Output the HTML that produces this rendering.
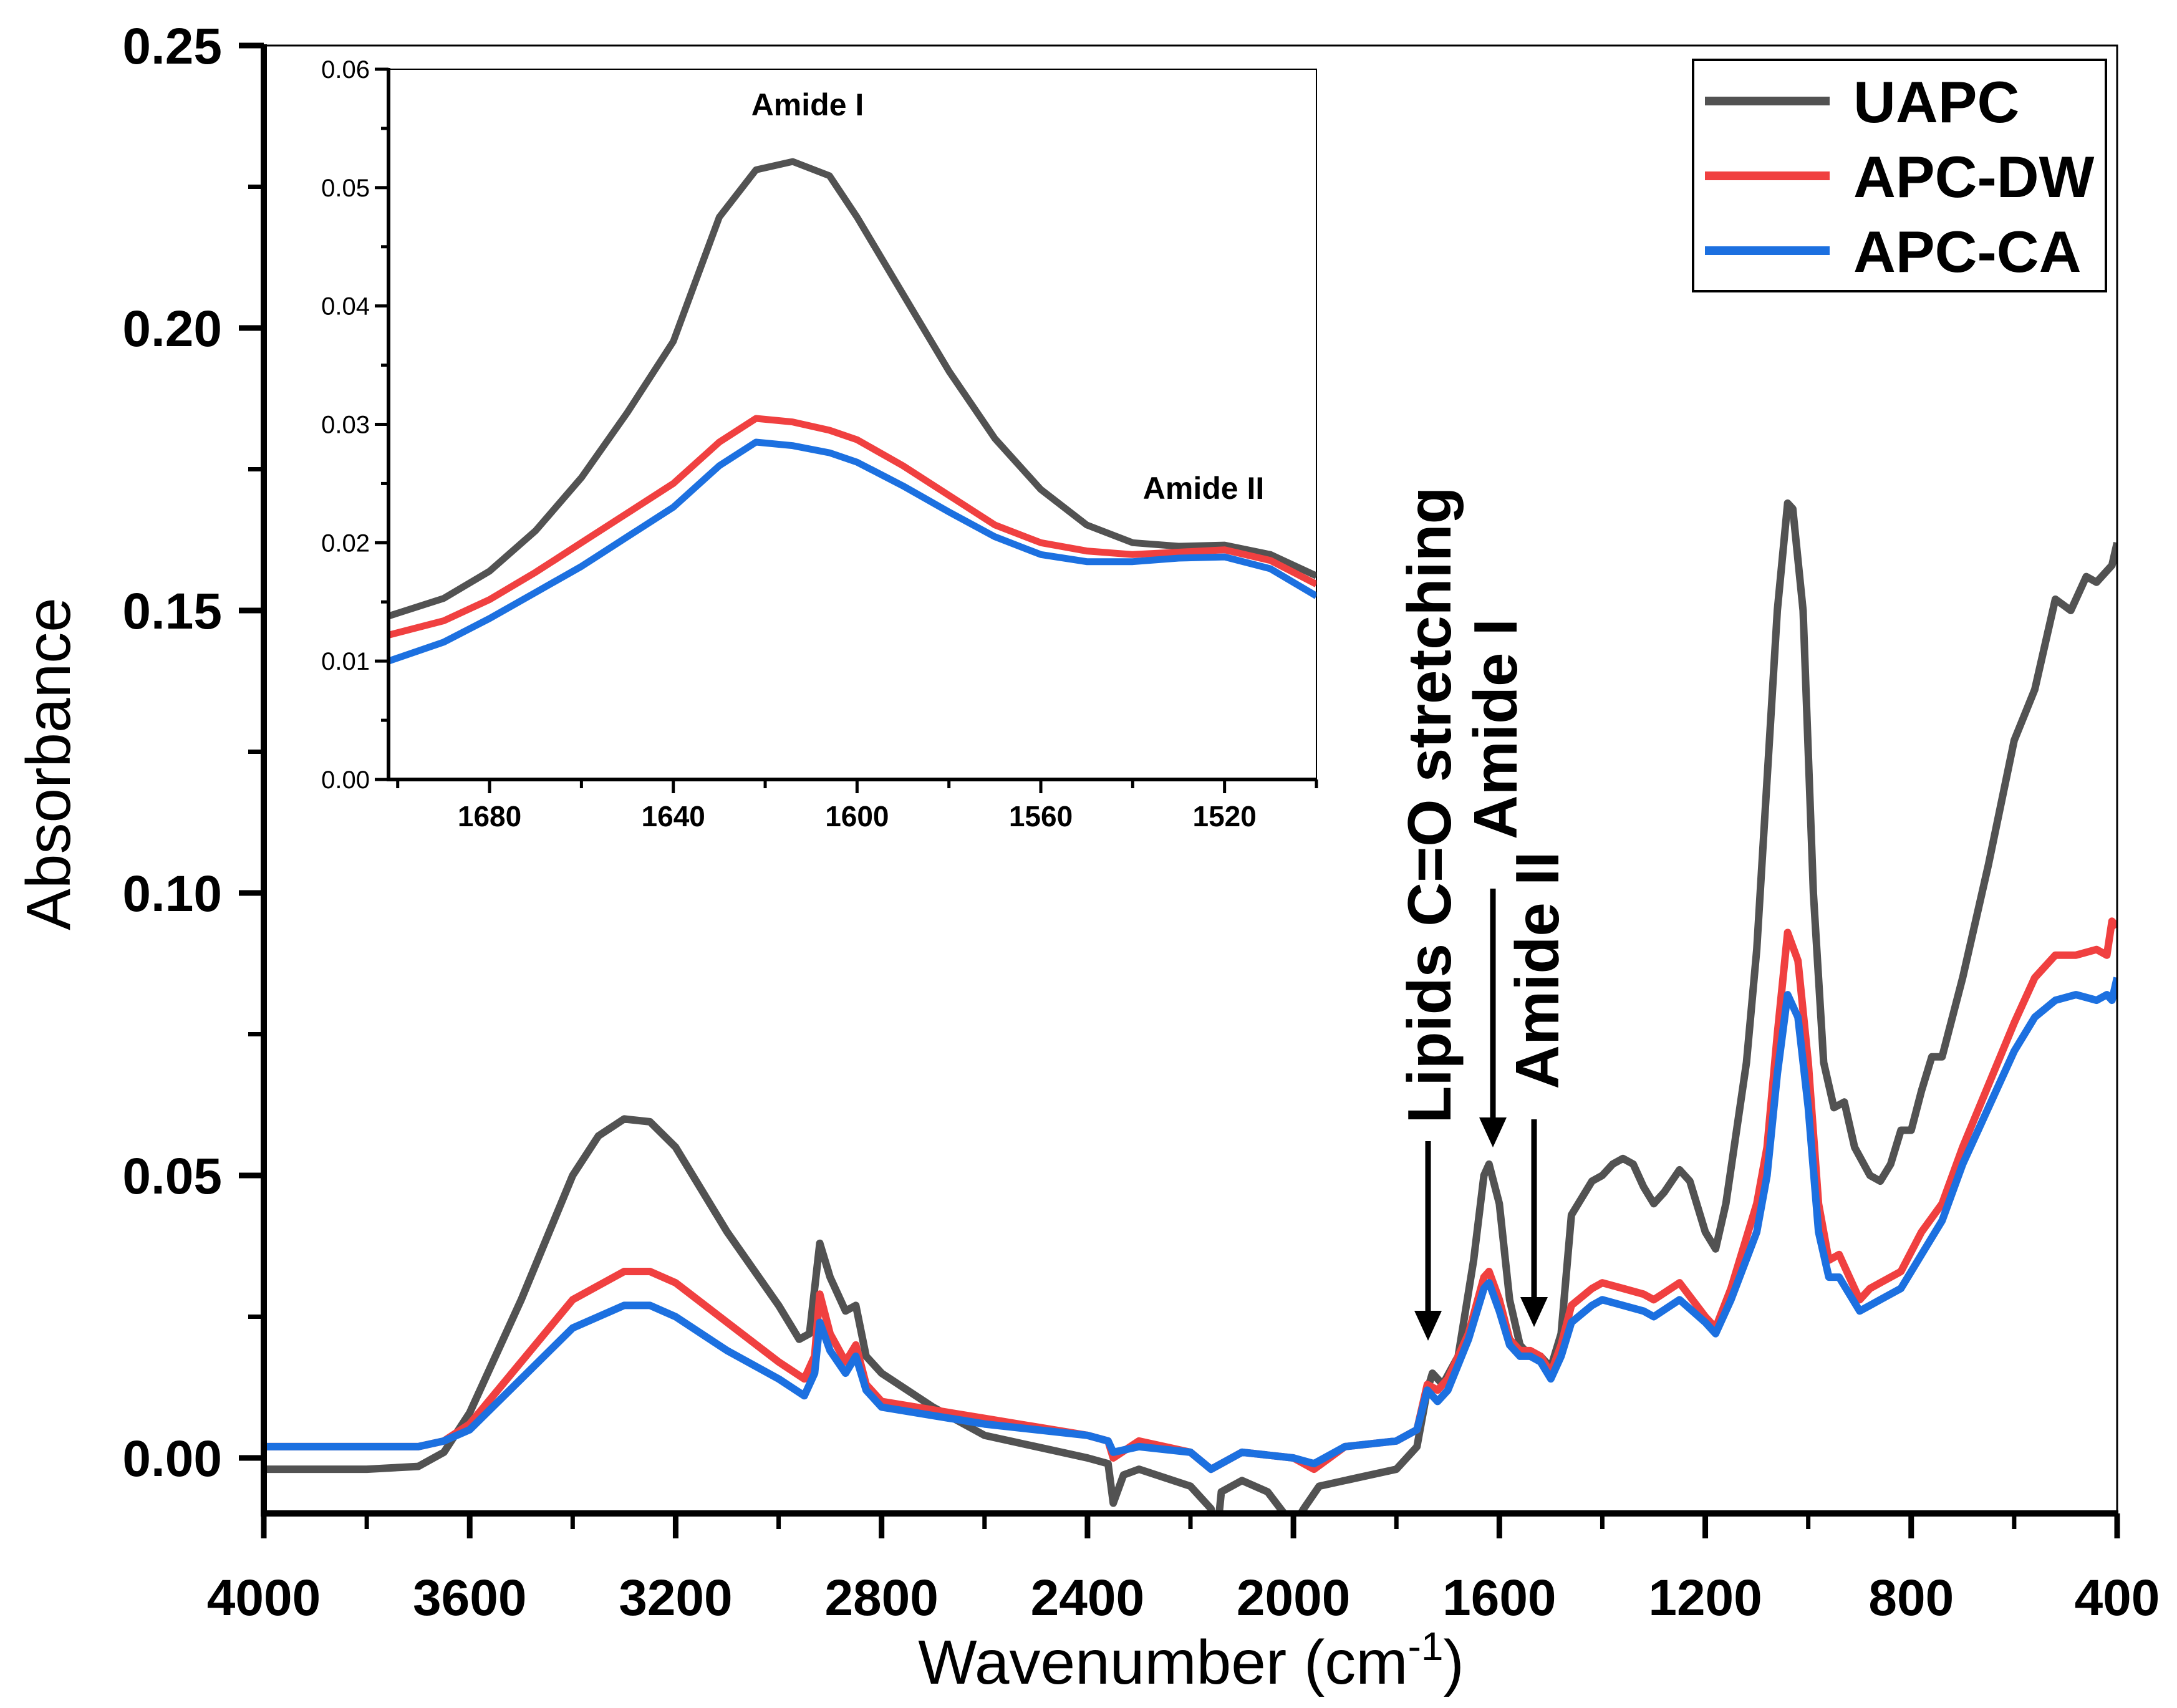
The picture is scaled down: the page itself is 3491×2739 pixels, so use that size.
<!DOCTYPE html>
<html><head><meta charset="utf-8"><style>
html,body{margin:0;padding:0;background:#fff;}
svg{display:block;font-family:"Liberation Sans",sans-serif;}
</style></head><body>
<svg id="c" width="3491" height="2739" viewBox="0 0 3491 2739" xmlns="http://www.w3.org/2000/svg"></svg>
<script>
// ---- main chart data ----
const seriesNames = ["UAPC","APC-DW","APC-CA"];
const xTicks = [4000,3600,3200,2800,2400,2000,1600,1200,800,400];
const yTicks = [0.00,0.05,0.10,0.15,0.20,0.25];
const yTickLabels = ["0.00","0.05","0.10","0.15","0.20","0.25"];
const uapcWn = [4000,3800,3700,3650,3600,3500,3400,3350,3300,3250,3200,3100,3000,2960,2940,2920,2900,2870,2850,2830,2800,2700,2600,2500,2400,2360,2350,2330,2300,2200,2160,2150,2140,2100,2050,2000,1980,1950,1900,1800,1760,1740,1730,1710,1680,1650,1630,1620,1600,1580,1560,1540,1520,1500,1480,1460,1440,1420,1400,1380,1360,1340,1320,1300,1280,1250,1230,1200,1180,1160,1120,1100,1080,1060,1040,1030,1010,990,970,950,930,910,880,860,840,820,800,780,760,740,700,650,600,560,520,490,460,440,410,400];
const uapcVal = [-0.002,-0.002,-0.0015,0.001,0.008,0.028,0.050,0.057,0.060,0.0595,0.055,0.040,0.027,0.021,0.022,0.038,0.032,0.026,0.027,0.018,0.015,0.009,0.004,0.002,0.000,-0.001,-0.008,-0.003,-0.002,-0.005,-0.009,-0.015,-0.006,-0.004,-0.006,-0.012,-0.009,-0.005,-0.004,-0.002,0.002,0.012,0.015,0.013,0.018,0.035,0.050,0.052,0.045,0.028,0.020,0.018,0.018,0.016,0.022,0.043,0.046,0.049,0.050,0.052,0.053,0.052,0.048,0.045,0.047,0.051,0.049,0.040,0.037,0.045,0.070,0.090,0.120,0.150,0.169,0.168,0.150,0.100,0.070,0.062,0.063,0.055,0.050,0.049,0.052,0.058,0.058,0.065,0.071,0.071,0.085,0.105,0.127,0.136,0.152,0.150,0.156,0.155,0.158,0.162];
const dwWn = [4000,3700,3650,3600,3500,3400,3300,3250,3200,3100,3000,2950,2930,2920,2900,2870,2850,2830,2800,2600,2400,2360,2350,2300,2200,2160,2100,2000,1960,1900,1800,1760,1740,1720,1700,1660,1630,1620,1600,1580,1560,1540,1520,1500,1480,1460,1420,1400,1360,1320,1300,1250,1200,1180,1150,1100,1080,1060,1040,1020,1000,980,960,940,920,900,880,860,820,780,740,700,650,600,560,520,480,440,420,410,400];
const dwVal = [0.002,0.002,0.003,0.006,0.017,0.028,0.033,0.033,0.031,0.024,0.017,0.014,0.018,0.029,0.022,0.017,0.020,0.013,0.010,0.007,0.004,0.003,0.000,0.003,0.001,-0.002,0.001,0.000,-0.002,0.002,0.003,0.005,0.013,0.012,0.014,0.022,0.032,0.033,0.028,0.021,0.019,0.019,0.018,0.015,0.020,0.027,0.030,0.031,0.030,0.029,0.028,0.031,0.025,0.023,0.030,0.045,0.055,0.075,0.093,0.088,0.070,0.045,0.035,0.036,0.032,0.028,0.030,0.031,0.033,0.040,0.045,0.055,0.066,0.077,0.085,0.089,0.089,0.090,0.089,0.095,0.094];
const caWn = dwWn;
const caVal = [0.002,0.002,0.003,0.005,0.014,0.023,0.027,0.027,0.025,0.019,0.014,0.011,0.015,0.024,0.019,0.015,0.018,0.012,0.009,0.006,0.004,0.003,0.001,0.002,0.001,-0.002,0.001,0.000,-0.001,0.002,0.003,0.005,0.012,0.010,0.012,0.021,0.030,0.031,0.026,0.020,0.018,0.018,0.017,0.014,0.018,0.024,0.027,0.028,0.027,0.026,0.025,0.028,0.024,0.022,0.028,0.040,0.050,0.068,0.082,0.078,0.062,0.040,0.032,0.032,0.029,0.026,0.027,0.028,0.030,0.036,0.042,0.052,0.062,0.072,0.078,0.081,0.082,0.081,0.082,0.081,0.085];
// ---- inset data ----
const inXTicks = [1680,1640,1600,1560,1520];
const inYTicks = [0.00,0.01,0.02,0.03,0.04,0.05,0.06];
const inWn = [1702,1690,1680,1670,1660,1650,1640,1630,1622,1614,1606,1600,1590,1580,1570,1560,1550,1540,1530,1520,1510,1500];
const inUapc = [0.0138,0.0153,0.0176,0.0210,0.0255,0.0310,0.0370,0.0475,0.0515,0.0522,0.0510,0.0475,0.0410,0.0345,0.0288,0.0245,0.0215,0.0200,0.0197,0.0198,0.0190,0.0172];
const inDw = [0.0122,0.0134,0.0152,0.0175,0.0200,0.0225,0.0250,0.0285,0.0305,0.0302,0.0295,0.0287,0.0265,0.0240,0.0215,0.0200,0.0193,0.0190,0.0192,0.0194,0.0185,0.0165];
const inCa = [0.0100,0.0116,0.0136,0.0158,0.0180,0.0205,0.0230,0.0265,0.0285,0.0282,0.0276,0.0268,0.0248,0.0226,0.0205,0.0190,0.0184,0.0184,0.0187,0.0188,0.0178,0.0155];

const NS="http://www.w3.org/2000/svg";
const svg=document.getElementById('c');
function mk(tag,attrs,parent){const e=document.createElementNS(NS,tag);for(const k in attrs)e.setAttribute(k,attrs[k]);(parent||svg).appendChild(e);return e;}
const colors=["#525252","#F04040","#1C70E0"];

// main axes
const L=423,R=3395,T=73,B=2427;
const xs=w=>L+(4000-w)/3600*(R-L);
const ys=v=>2338-v/0.05*453;
const defs=mk('defs',{});
const cp=mk('clipPath',{id:'mclip'},defs);
mk('rect',{x:L,y:T,width:R-L,height:B-T},cp);
const main=mk('g',{'clip-path':'url(#mclip)'});


const mainW=[uapcWn,dwWn,caWn],mainV=[uapcVal,dwVal,caVal],mainN=['uapc-line','apc-dw-line','apc-ca-line'];
for(let s=0;s<3;s++){
  const d=mainW[s].map((w,i)=>(i?'L':'M')+xs(w).toFixed(1)+','+ys(mainV[s][i]).toFixed(1)).join('');
  const p=mk('path',{d:d,fill:'none',stroke:colors[s],'stroke-width':12,'stroke-linejoin':'round'},main);
  
  
}
// frame
const fr=mk('rect',{x:L,y:T,width:R-L,height:B-T,fill:'none',stroke:'#000','stroke-width':3});


mk('line',{x1:L,y1:T-2,x2:L,y2:B+5,stroke:'#000','stroke-width':10});
mk('line',{x1:L-5,y1:B,x2:R+2,y2:B,stroke:'#000','stroke-width':10});
// x ticks
for(let w=4000;w>=400;w-=200){
  const major=(w%400===0);
  mk('line',{x1:xs(w),y1:B,x2:xs(w),y2:B+(major?40:25),stroke:'#000','stroke-width':major?9:7});
}
xTicks.forEach(w=>{const t=mk('text',{x:xs(w),y:2590,'font-size':82,'font-weight':'bold','text-anchor':'middle'});t.textContent=w;

});
// y ticks
for(let k=0;k<=10;k++){const v=k*0.025;const major=k%2===0;
  mk('line',{x1:L,y1:ys(v),x2:L-(major?40:25),y2:ys(v),stroke:'#000','stroke-width':major?9:7});}
yTicks.forEach((v,i)=>{const t=mk('text',{x:356,y:ys(v)+29,'font-size':82,'font-weight':'bold','text-anchor':'end'});t.textContent=yTickLabels[i];

});
// axis titles
let t=mk('text',{x:1910,y:2700,'font-size':100,'text-anchor':'middle'});
t.innerHTML='Wavenumber (cm<tspan dy="-38" font-size="64">-1</tspan><tspan dy="38">)</tspan>';


t=mk('text',{x:0,y:0,'font-size':100,'text-anchor':'middle',transform:'translate(112,1225) rotate(-90)'});
t.textContent='Absorbance';



// annotations
function ann(text,tx,ty,ax,ay1,ay2,name){
  const g=mk('g',{});
  
  
  const tt=mk('text',{x:0,y:0,'font-size':98,'font-weight':'bold','text-anchor':'middle',transform:`translate(${tx},${ty}) rotate(-90)`},g);
  tt.textContent=text;
  mk('line',{x1:ax,y1:ay1,x2:ax,y2:ay2-40,stroke:'#000','stroke-width':9},g);
  mk('polygon',{points:`${ax-22},${ay2-48} ${ax+22},${ay2-48} ${ax},${ay2}`,fill:'#000'},g);
}
ann('Lipids C=O stretching',2326,1291,2290,1830,2150,'lipids-annotation');
ann('Amide I',2432,1169,2394,1425,1840,'amide-i-annotation');
ann('Amide II',2499,1556,2460,1795,2128,'amide-ii-annotation');

// legend
const lg=mk('g',{});


mk('rect',{x:2715,y:96,width:662,height:371,fill:'#fff',stroke:'#000','stroke-width':4},lg);
seriesNames.forEach((n,i)=>{const y=162+i*120;
  const e=mk('g',{},lg);
  
  
  mk('line',{x1:2734,y1:y,x2:2934,y2:y,stroke:colors[i],'stroke-width':14},e);
  const tx=mk('text',{x:2972,y:y+34,'font-size':94,'font-weight':'bold'},e);tx.textContent=n;});

// inset
const iL=623,iR=2111,iT=111,iB=1250;
const ixs=w=>iL+(1702-w)/202*(iR-iL);
const iys=v=>iB-v/0.06*(iB-iT);
const ig=mk('g',{});


mk('rect',{x:iL,y:iT,width:iR-iL,height:iB-iT,fill:'#fff',stroke:'#000','stroke-width':2},ig);
const icp=mk('clipPath',{id:'iclip'},defs);
mk('rect',{x:iL,y:iT,width:iR-iL,height:iB-iT},icp);
const ia=mk('g',{'clip-path':'url(#iclip)'},ig);
[inUapc,inDw,inCa].forEach((arr,s)=>{
  const d=inWn.map((w,i)=>(i?'L':'M')+ixs(w).toFixed(1)+','+iys(arr[i]).toFixed(1)).join('');
  const p=mk('path',{d:d,fill:'none',stroke:colors[s],'stroke-width':11,'stroke-linejoin':'round'},ia);
  
  
});
mk('line',{x1:iL,y1:iT-2,x2:iL,y2:iB+3,stroke:'#000','stroke-width':6},ig);
mk('line',{x1:iL-3,y1:iB,x2:iR,y2:iB,stroke:'#000','stroke-width':6},ig);
for(let w=1700;w>=1500;w-=20){const major=(w%40===0);
  mk('line',{x1:ixs(w),y1:iB,x2:ixs(w),y2:iB+(major?22:14),stroke:'#000','stroke-width':5},ig);}
inXTicks.forEach(w=>{const tt=mk('text',{x:ixs(w),y:iB+75,'font-size':46,'font-weight':'bold','text-anchor':'middle'},ig);tt.textContent=w;

});
for(let k=0;k<=12;k++){const v=k*0.005;const major=k%2===0;
  mk('line',{x1:iL,y1:iys(v),x2:iL-(major?22:12),y2:iys(v),stroke:'#000','stroke-width':5},ig);}
inYTicks.forEach(v=>{const tt=mk('text',{x:iL-30,y:iys(v)+14,'font-size':40,'text-anchor':'end'},ig);tt.textContent=v.toFixed(2);

});
t=mk('text',{x:1295,y:185,'font-size':50,'font-weight':'bold','text-anchor':'middle'},ig);t.textContent='Amide I';


t=mk('text',{x:1930,y:800,'font-size':50,'font-weight':'bold','text-anchor':'middle'},ig);t.textContent='Amide II';


</script>
</body></html>
